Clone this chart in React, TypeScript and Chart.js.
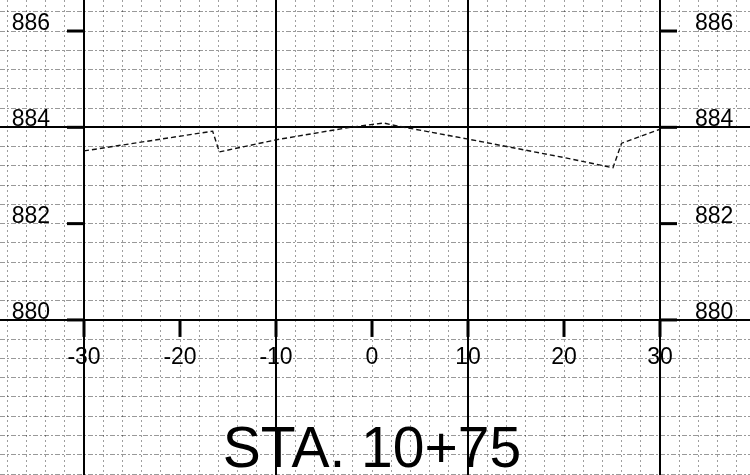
import React, { useEffect, useRef } from "react";
import { Chart, registerables } from "chart.js";

Chart.register(...registerables);

// Ground profile (offset in ft, elevation in ft)
const offsets = [-30, -16.6, -15.9, -10, -2.6, 1.2, 2.6, 9.9, 20.3, 25.1, 26.0, 30];
const elevations = [883.51, 883.92, 883.49, 883.74, 883.99, 884.09, 884.03, 883.76, 883.36, 883.16, 883.67, 883.96];

// Axis labels
const xTickValues = [-30, -20, -10, 0, 10, 20, 30];
const xTickLabels = ["-30", "-20", "-10", "0", "10", "20", "30"];
const yTickValues = [880, 882, 884, 886];
const yTickLabels = ["880", "882", "884", "886"];
const xMajorLines = [-30, -10, 10, 30];
const yMajorLines = [880, 884];
const stationLabel = "STA. 10+75";

// Visible window of the sheet
const X_MIN = -38.75;
const X_MAX = 39.375;
const Y_MIN = 876.78;
const Y_MAX = 886.644;
const X_GRID_STEP = 2;
const Y_GRID_STEP = 0.4;

function gridValues(min: number, max: number, step: number, anchor: number) {
  const out: number[] = [];
  const start = Math.ceil((min - anchor) / step);
  const end = Math.floor((max - anchor) / step);
  for (let k = start; k <= end; k++) out.push(Math.round((anchor + k * step) * 1000) / 1000);
  return out;
}

const isMajor = (v: number, list: number[]) => list.some((m) => Math.abs(m - v) < 1e-6);

const FONT = "'Liberation Sans', Arial, sans-serif";

const labelsPlugin = {
  id: "sheetLabels",
  afterDraw(chart: any) {
    const ctx = chart.ctx as CanvasRenderingContext2D;
    const xs = chart.scales.x;
    const ys = chart.scales.y;
    const xl = xs.getPixelForValue(xTickValues[0]);
    const xr = xs.getPixelForValue(xTickValues[xTickValues.length - 1]);
    const yb = ys.getPixelForValue(yTickValues[0]);
    ctx.save();
    ctx.fillStyle = "#000";
    ctx.font = `23px ${FONT}`;
    ctx.textBaseline = "alphabetic";
    yTickValues.forEach((v, i) => {
      const py = ys.getPixelForValue(v);
      ctx.fillRect(xl - 17, py - 1.5, 17, 3);
      ctx.fillRect(xr, py - 1.5, 17, 3);
      ctx.textAlign = "right";
      ctx.fillText(yTickLabels[i], xl - 34, py - 1);
      ctx.textAlign = "left";
      ctx.fillText(yTickLabels[i], xr + 35, py - 1);
    });
    xTickValues.forEach((v, i) => {
      const px = xs.getPixelForValue(v);
      ctx.fillRect(px - 1.5, yb, 3, 17);
      ctx.textAlign = "center";
      ctx.fillText(xTickLabels[i], px, yb + 44);
    });
    ctx.font = `57px ${FONT}`;
    ctx.textAlign = "center";
    ctx.fillText(stationLabel, xs.getPixelForValue(0), chart.chartArea.bottom - 8);
    ctx.restore();
  },
};

export default function App() {
  const ref = useRef<HTMLCanvasElement | null>(null);
  useEffect(() => {
    document.body.style.margin = "0";
    const xGrid = gridValues(X_MIN, X_MAX, X_GRID_STEP, -30);
    const yGrid = gridValues(Y_MIN, Y_MAX, Y_GRID_STEP, 880);
    const chart = new Chart(ref.current as HTMLCanvasElement, {
      type: "line",
      data: {
        datasets: [
          {
            data: offsets.map((x, i) => ({ x, y: elevations[i] })),
            borderColor: "#111",
            borderWidth: 1.4,
            borderDash: [5, 3],
            pointRadius: 0,
            tension: 0,
            fill: false,
          },
        ],
      },
      options: {
        animation: false,
        responsive: false,
        layout: { padding: 0 },
        plugins: { legend: { display: false }, tooltip: { enabled: false }, title: { display: false } },
        scales: {
          x: {
            type: "linear",
            min: X_MIN,
            max: X_MAX,
            afterBuildTicks: (axis: any) => {
              axis.ticks = xGrid.map((v) => ({ value: v }));
            },
            ticks: { display: false },
            grid: {
              drawTicks: false,
              color: (c: any) => (isMajor(c.tick?.value, xMajorLines) ? "#000" : "rgba(0,0,0,0.38)"),
              lineWidth: (c: any) => (isMajor(c.tick?.value, xMajorLines) ? 2 : 1),
            },
            border: {
              display: false,
              dash: (c: any) => (isMajor(c.tick?.value, xMajorLines) ? [] : [2, 3]),
            },
          },
          y: {
            type: "linear",
            min: Y_MIN,
            max: Y_MAX,
            afterBuildTicks: (axis: any) => {
              axis.ticks = yGrid.map((v) => ({ value: v }));
            },
            ticks: { display: false },
            grid: {
              drawTicks: false,
              color: (c: any) => (isMajor(c.tick?.value, yMajorLines) ? "#000" : "rgba(0,0,0,0.4)"),
              lineWidth: (c: any) => (isMajor(c.tick?.value, yMajorLines) ? 2 : 1),
            },
            border: {
              display: false,
              dash: (c: any) => (isMajor(c.tick?.value, yMajorLines) ? [] : [5, 2, 2, 2]),
            },
          },
        },
      },
      plugins: [labelsPlugin],
    } as any);
    return () => chart.destroy();
  }, []);
  return (
    <div style={{ position: "absolute", left: 0, top: 0, width: 750, height: 475, background: "#fff" }}>
      <canvas ref={ref} width={750} height={475} style={{ display: "block" }} />
    </div>
  );
}
